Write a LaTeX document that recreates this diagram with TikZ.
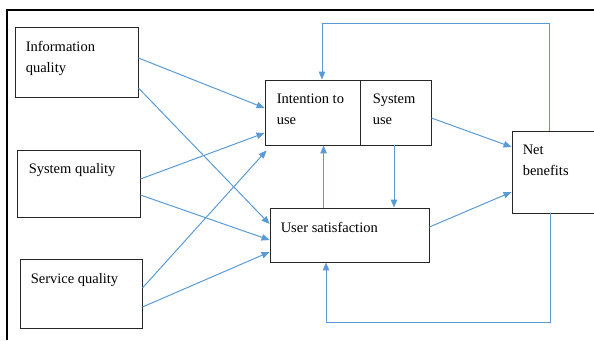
\documentclass[tikz,border=0pt]{standalone}
\usepackage{fontspec}
\setmainfont{Liberation Serif}
\usepackage{xcolor}
\definecolor{myBlue}{HTML}{5B9BD5}
\usepackage{tikz}
\usetikzlibrary{
  positioning,
  calc,
  arrows.meta
}

\begin{document}
\begin{tikzpicture}[x=1pt, y=-1pt,
    blk/.style={draw=black!85, line width=0.9pt, rectangle, inner sep=0pt},
    txt/.style={anchor=north west, inner sep=0pt, align=left, font=\fontsize{14.5}{21}\selectfont},
    link/.style={draw=myBlue, line width=1pt, -{Triangle[length=8pt, width=6.5pt]}}]
      \useasboundingbox (0,0) rectangle (594,340);

      % 外枠（上と左）
      \draw[line width=2.5pt] (7,340) -- (7,10) -- (594,10);

      % 左側の三つの箱
      \node[blk, minimum width=123pt, minimum height=70pt] (info) at (76.5,62) {};
      \node[blk, minimum width=123pt, minimum height=67pt] (sysq) at (78.5,183.5) {};
      \node[blk, minimum width=122pt, minimum height=69pt] (serv) at (81,293.5) {};

      % 中央の箱
      \node[blk, minimum width=95pt, minimum height=65pt] (intent) at (312.5,112.5) {};
      \node[blk, minimum width=71pt, minimum height=65pt] (sysuse) at (395.5,112.5) {};
      \node[blk, minimum width=159pt, minimum height=54pt] (usersat) at (349.5,235) {};

      % 右端の箱（右辺は画面の外）
      \node[blk, minimum width=98pt, minimum height=82pt] (net) at (561,172) {};

      % 各箱の文字
      \node[txt] (info-t) at ($(info.north west)+(11,14.5)$) {Information\\quality};
      \node[txt] (sysq-t) at ($(sysq.north west)+(12,14)$) {System quality};
      \node[txt] (serv-t) at ($(serv.north west)+(11,14.5)$) {Service quality};
      \node[txt] (intent-t) at ($(intent.north west)+(12,14.5)$) {Intention to\\use};
      \node[txt] (sysuse-t) at ($(sysuse.north west)+(13,14.5)$) {System\\use};
      \node[txt] (usersat-t) at ($(usersat.north west)+(11,14.5)$) {User satisfaction};
      \node[txt] (net-t) at ($(net.north west)+(11,14.5)$) {Net\\benefits};

      % Information quality からの矢印
      \draw[link] ($(info.east)+(0,-4)$) -- ($(intent.west)+(0,-4.5)$);
      \draw[link] ($(info.east)+(0,26)$) -- ($(usersat.west)+(0,-11)$);

      % System quality からの矢印
      \draw[link] ($(sysq.east)+(0,-4.5)$) -- ($(intent.west)+(0,20.5)$);
      \draw[link] ($(sysq.east)+(0,11.5)$) -- ($(usersat.west)+(0,5)$);

      % Service quality からの矢印
      \draw[link] ($(serv.east)+(0,-5.5)$) -- ($(intent.south west)+(2,5)$);
      \draw[link] ($(serv.east)+(0,13.5)$) -- ($(usersat.west)+(0,17)$);

      % User satisfaction と System use の間の縦の矢印
      \coordinate (us-up) at ($(usersat.north west)+(54,0)$);
      \draw[link] (us-up) -- (us-up |- intent.south);
      \coordinate (su-down) at ($(sysuse.south)+(-1.5,0)$);
      \draw[link] (su-down) -- (su-down |- usersat.north);

      % Net benefits への矢印
      \draw[link] ($(sysuse.east)+(0,5.5)$) -- ($(net.west)+(0,-25)$);
      \draw[link] ($(usersat.east)+(0,-8)$) -- ($(net.west)+(0,20)$);

      % 上のフィードバック
      \coordinate (topR) at (549,23);
      \coordinate (topL) at (322,23);
      \draw[link] (net.north -| topR) -- (topR) -- (topL) -- (intent.north -| topL);

      % 下のフィードバック
      \coordinate (botR) at (550,322);
      \coordinate (botL) at (326,322);
      \draw[link] (net.south -| botR) -- (botR) -- (botL) -- (usersat.south -| botL);
\end{tikzpicture}
\end{document}
